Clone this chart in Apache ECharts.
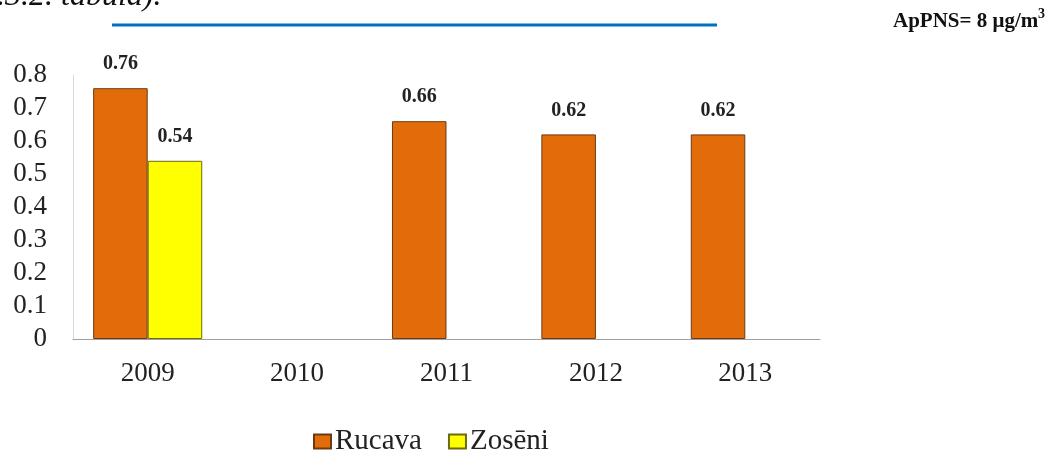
<!DOCTYPE html>
<html>
<head>
<meta charset="utf-8">
<script src="https://cdn.jsdelivr.net/npm/echarts@6/dist/echarts.min.js"></script>
<style>
  html, body { margin: 0; padding: 0; background: #fff; }
  #chart { width: 1048px; height: 450px; }
</style>
</head>
<body>
<div id="chart"></div>
<script>
// Yearly mean concentrations at two monitoring stations
const years = ['2009', '2010', '2011', '2012', '2013'];
const rucava = [0.76, null, 0.66, 0.62, 0.62];
const zoseni = [0.54, null, null, null, null];
const yTicks = { min: 0, max: 0.8, interval: 0.1 };

const serif = '"Liberation Serif", "DejaVu Serif", serif';

const chart = echarts.init(document.getElementById('chart'), null, { renderer: 'canvas' });

const barLabel = {
  show: true,
  position: 'top',
  distance: 14,
  fontFamily: serif,
  fontWeight: 'bold',
  fontSize: 20,
  color: '#222',
  formatter: p => p.value.toFixed(2)
};

chart.setOption({
  animation: false,
  backgroundColor: '#fff',
  grid: { left: 73, right: 228, top: 75, bottom: 111, containLabel: false },
  legend: {
    data: ['Rucava', 'Zosēni'],
    left: 313,
    top: 427,
    padding: 0,
    itemWidth: 17,
    itemHeight: 14,
    itemGap: 26,
    icon: 'rect',
    textStyle: { fontFamily: serif, fontSize: 29, color: '#222', padding: [0, 0, 0, -1] }
  },
  xAxis: {
    type: 'category',
    data: years,
    axisLine: { lineStyle: { color: '#a0a0a0', width: 1 } },
    axisTick: { show: false },
    axisLabel: { fontFamily: serif, fontSize: 27, color: '#222', margin: 21 }
  },
  yAxis: {
    type: 'value',
    min: yTicks.min,
    max: yTicks.max,
    interval: yTicks.interval,
    axisLine: { show: true, lineStyle: { color: '#d9d9d9', width: 1 } },
    axisTick: { show: false },
    splitLine: { show: false },
    axisLabel: {
      fontFamily: serif, fontSize: 27, color: '#222', margin: 26,
      formatter: v => (Math.round(v * 10) / 10).toString()
    }
  },
  series: [
    {
      name: 'Rucava',
      type: 'bar',
      data: rucava,
      barGap: '0%',
      barCategoryGap: '27%',
      itemStyle: { color: '#E36C0A', borderColor: '#6b3a12', borderWidth: 1 },
      label: barLabel
    },
    {
      name: 'Zosēni',
      type: 'bar',
      data: zoseni,
      itemStyle: { color: '#FFFF00', borderColor: '#6b6b10', borderWidth: 1 },
      label: barLabel
    }
  ],
  graphic: [
    {
      type: 'text',
      left: -3,
      top: -19,
      style: {
        text: '.3.2. tabula).',
        font: 'italic 32px ' + serif,
        fill: '#111'
      }
    },
    {
      type: 'line',
      shape: { x1: 112, y1: 25, x2: 717, y2: 25 },
      style: { stroke: '#0070C0', lineWidth: 3 }
    },
    {
      type: 'text',
      left: 893,
      top: 11,
      style: {
        text: 'ApPNS= 8 μg/m',
        font: 'bold 21px ' + serif,
        fill: '#111'
      }
    },
    {
      type: 'text',
      left: 1038,
      top: 7,
      style: {
        text: '3',
        font: 'bold 14px ' + serif,
        fill: '#111'
      }
    }
  ]
});
</script>
</body>
</html>
